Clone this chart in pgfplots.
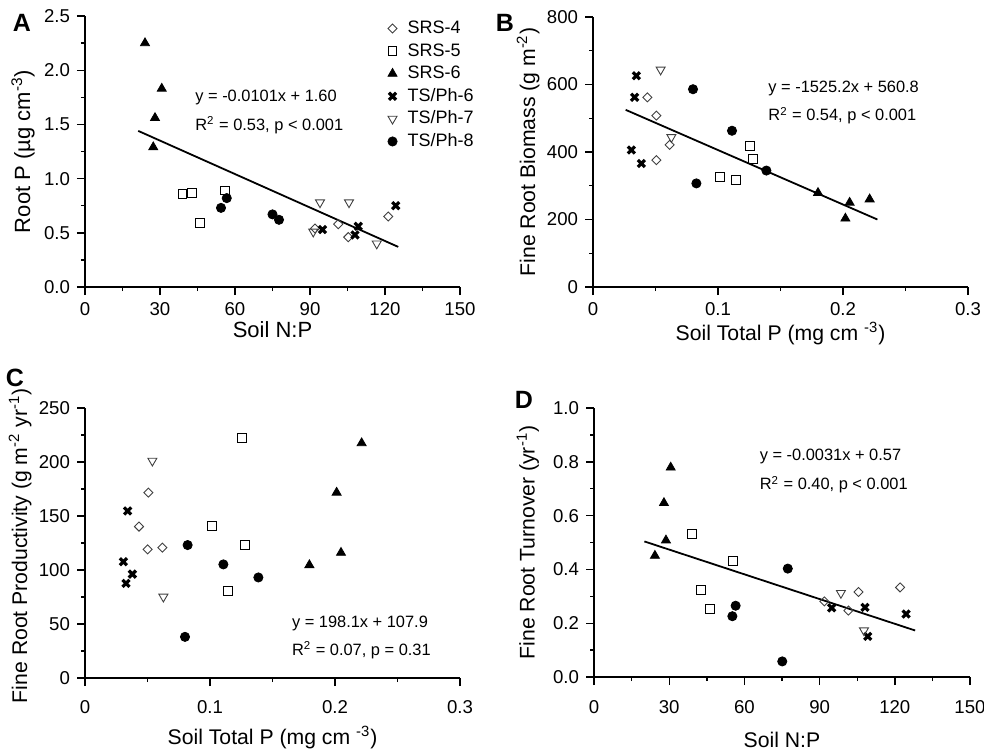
\documentclass[border=0pt]{standalone}
\usepackage{fontspec}
\setmainfont{Liberation Sans}
\usepackage{pgfplots}
\pgfplotsset{compat=1.18}

\pgfplotsset{
  panel/.style={
    scale only axis, width=187.5pt, height=135pt,
    axis x line*=bottom, axis y line*=left,
    x axis line style={-}, y axis line style={-},
    axis line style={line width=0.8pt},
    tick align=outside, major tick length=4pt, minor tick length=2pt,
    minor tick num=1, tick style={black, line width=0.7pt},
    tick label style={font=\fontsize{9.3}{10}\selectfont},
    label style={font=\fontsize{10.6}{12}\selectfont},
    clip=false,
  },
  s4/.style={only marks, mark=square, mark size=1.6pt,
    mark options={rotate=45, draw=black!75, line width=0.45pt}},
  s5/.style={only marks, mark=square, mark size=2.2pt,
    mark options={draw=black, line width=0.5pt}},
  s6/.style={only marks, mark=triangle*, mark size=2.6pt, black},
  t6/.style={only marks, mark=x, mark size=2.5pt,
    mark options={line width=1.6pt}, black},
  t7/.style={only marks, mark=triangle, mark size=2.6pt,
    mark options={rotate=180, draw=black!75, line width=0.45pt}},
  t8/.style={only marks, mark=*, mark size=2.3pt, black},
  fit/.style={black, line width=0.9pt, no marks, forget plot},
}
\tikzset{eq/.style={anchor=west, font=\fontsize{8.2}{10}\selectfont, inner sep=0pt},
  letter/.style={font=\fontsize{12.5}{13}\selectfont\bfseries}}

\begin{document}
\begin{tikzpicture}
\path[use as bounding box] (0,0) rectangle (492pt,-377.5pt);

% A
\begin{axis}[panel, at={(42.5pt,-143.5pt)}, anchor=south west, height=135.5pt,
  xmin=0, xmax=150, ymin=0, ymax=2.5,
  xtick={0,30,60,90,120,150}, xticklabels={0,30,60,90,120,150},
  ytick={0,0.5,1,1.5,2,2.5}, yticklabels={0.0,0.5,1.0,1.5,2.0,2.5},
  xlabel={Soil N:P}, ylabel={Root P (µg cm\textsuperscript{-3})},
  label style={font=\fontsize{11}{12}\selectfont},
  xlabel style={at={(axis description cs:0.5,-0.159)}, anchor=center},
  ylabel style={at={(axis description cs:-0.165,0.5)}, anchor=center},
  legend style={at={(0.803,0.985)}, anchor=north west, draw=none, fill=none,
    font=\fontsize{9}{10}\selectfont, row sep=3.3pt, column sep=0pt,
    inner sep=0pt, nodes={inner sep=0pt, text height=6.5pt, text depth=1.5pt},
    legend cell align=left},
  legend image code/.code={\draw[#1] plot coordinates {(0pt,0pt)};
    \path[draw=none, fill=none] (-3pt,0pt) -- (7.5pt,0pt);},
]
\addplot[s4] coordinates {(92,0.54) (101.3,0.58) (105.3,0.46) (121.3,0.65)};
\addplot[s5] coordinates {(39,0.86) (42.9,0.87) (46,0.59) (56,0.89)};
\addplot[s6] coordinates {(24,2.25) (30.7,1.83) (28,1.56) (27.3,1.29)};
\addplot[t6] coordinates {(95,0.53) (109.3,0.56) (108,0.48) (124.3,0.75)};
\addplot[t7] coordinates {(94,0.78) (105.6,0.78) (91.3,0.51) (116.7,0.40)};
\addplot[t8] coordinates {(54.4,0.73) (56.7,0.82) (75,0.67) (77.6,0.62)};
\addplot[fit] coordinates {(21.3,1.44) (125.3,0.37)};
\legend{SRS-4,SRS-5,SRS-6,TS/Ph-6,TS/Ph-7,TS/Ph-8}
\node[eq] at (axis cs:44,1.745) {y = -0.0101x + 1.60};
\node[eq] at (axis cs:44,1.49) {R\textsuperscript{2} = 0.53, p < 0.001};
\end{axis}

% B
\begin{axis}[panel, at={(296.5pt,-143.5pt)}, anchor=south west,
  xmin=0, xmax=0.3, ymin=0, ymax=800,
  xtick={0,0.1,0.2,0.3}, xticklabels={0,0.1,0.2,0.3},
  ytick={0,200,400,600,800}, yticklabels={0,200,400,600,800},
  xlabel={Soil Total P (mg cm \textsuperscript{-3})},
  ylabel={Fine Root Biomass (g m\textsuperscript{-2})},
  xlabel style={at={(axis description cs:0.5,-0.174)}, anchor=center},
  ylabel style={at={(axis description cs:-0.173,0.5)}, anchor=center},
]
\addplot[s4] coordinates {(0.0435,562) (0.0507,508) (0.0507,376) (0.0613,421)};
\addplot[s5] coordinates {(0.1019,327) (0.1147,317) (0.1253,418) (0.128,380)};
\addplot[s6] coordinates {(0.18,279) (0.2053,250) (0.2019,203) (0.2213,260)};
\addplot[t6] coordinates {(0.0347,626) (0.0333,562) (0.0307,406) (0.0387,366)};
\addplot[t7] coordinates {(0.0541,644) (0.0627,444)};
\addplot[t8] coordinates {(0.08,586) (0.0827,307) (0.1112,463) (0.1387,345)};
\addplot[fit] coordinates {(0.0261,525) (0.2275,200)};
\node[eq] at (axis cs:0.14,589) {y = -1525.2x + 560.8};
\node[eq] at (axis cs:0.14,508) {R\textsuperscript{2} = 0.54, p < 0.001};
\end{axis}

% C
\begin{axis}[panel, at={(42.5pt,-339pt)}, anchor=south west,
  xmin=0, xmax=0.3, ymin=0, ymax=250,
  xtick={0,0.1,0.2,0.3}, xticklabels={0,0.1,0.2,0.3},
  ytick={0,50,100,150,200,250}, yticklabels={0,50,100,150,200,250},
  xticklabel style={yshift=-3.5pt},
  xlabel={Soil Total P (mg cm \textsuperscript{-3})},
  ylabel={Fine Root Productivity (g m\textsuperscript{-2} yr\textsuperscript{-1})},
  xlabel style={at={(axis description cs:0.5,-0.222)}, anchor=center},
  ylabel style={at={(axis description cs:-0.173,0.49)}, anchor=center},
]
\addplot[s4] coordinates {(0.0507,171.7) (0.0432,140.2) (0.0501,119.1) (0.0619,120.7)};
\addplot[s5] coordinates {(0.1253,222.2) (0.1019,140.8) (0.128,123.1) (0.1141,80.4)};
\addplot[s6] coordinates {(0.2213,217.5) (0.2013,171.7) (0.1795,104.6) (0.2048,116)};
\addplot[t6] coordinates {(0.0341,154.7) (0.0307,107.7) (0.0379,96.2) (0.0328,87.6)};
\addplot[t7] coordinates {(0.0539,201.1) (0.0627,75.2)};
\addplot[t8] coordinates {(0.0821,123.1) (0.08,38.1) (0.1107,105.2) (0.1387,93.1)};
\node[eq] at (axis cs:0.1653,50.4) {y = 198.1x + 107.9};
\node[eq] at (axis cs:0.1653,25.7) {R\textsuperscript{2} = 0.07, p = 0.31};
\end{axis}

% D
\begin{axis}[panel, at={(297pt,-338.5pt)}, anchor=south west, width=188pt, height=134.5pt,
  xmin=0, xmax=150, ymin=0, ymax=1,
  xtick={0,30,60,90,120,150}, xticklabels={0,30,60,90,120,150},
  ytick={0,0.2,0.4,0.6,0.8,1}, yticklabels={0.0,0.2,0.4,0.6,0.8,1.0},
  xticklabel style={yshift=-4pt},
  xlabel={Soil N:P}, ylabel={Fine Root Turnover (yr\textsuperscript{-1})},
  xlabel style={at={(axis description cs:0.5,-0.234)}, anchor=center},
  ylabel style={at={(axis description cs:-0.176,0.5)}, anchor=center},
]
\addplot[s4] coordinates {(91.9,0.281) (101.5,0.247) (105.5,0.316) (122.1,0.333)};
\addplot[s5] coordinates {(39,0.533) (55.6,0.43) (42.7,0.322) (46.3,0.254)};
\addplot[s6] coordinates {(30.6,0.779) (27.9,0.647) (28.7,0.508) (24.3,0.451)};
\addplot[t6] coordinates {(94.8,0.257) (108.1,0.259) (109.2,0.151) (124.5,0.234)};
\addplot[t7] coordinates {(98.5,0.312) (107.7,0.173)};
\addplot[t8] coordinates {(77.3,0.403) (56.5,0.265) (55.2,0.226) (75.1,0.058)};
\addplot[fit] coordinates {(20.1,0.504) (128.1,0.173)};
\node[eq] at (axis cs:66,0.818) {y = -0.0031x + 0.57};
\node[eq] at (axis cs:66,0.715) {R\textsuperscript{2} = 0.40, p < 0.001};
\end{axis}

\node[letter] at (11pt,-11.5pt) {A};
\node[letter] at (252.5pt,-11.5pt) {B};
\node[letter] at (7.5pt,-188.75pt) {C};
\node[letter] at (262pt,-199.75pt) {D};
\end{tikzpicture}
\end{document}
